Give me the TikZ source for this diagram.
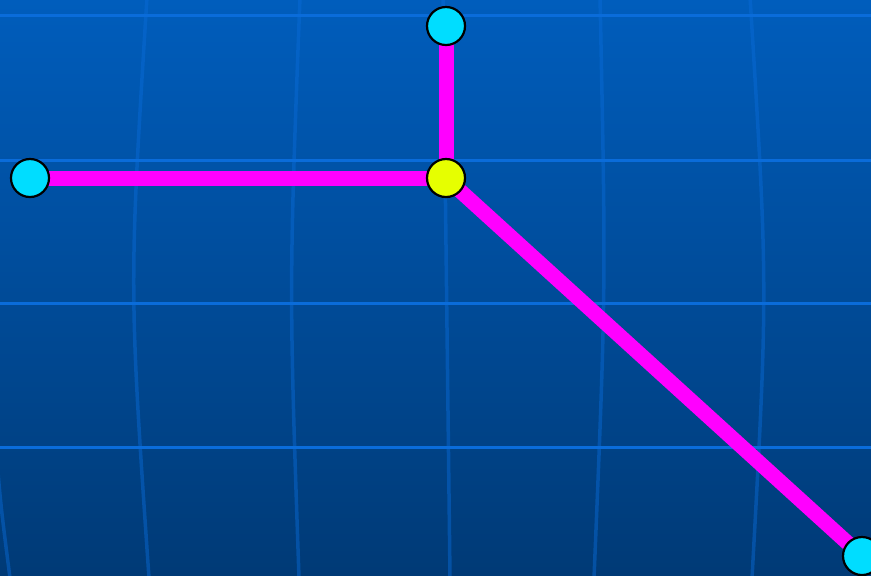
\documentclass[tikz,border=0pt]{standalone}
\usepackage{tikz}
\usetikzlibrary{backgrounds}
\definecolor{skytop}{RGB}{0,93,188}
\definecolor{skybot}{RGB}{0,58,118}
\definecolor{gridblue}{RGB}{10,108,218}
\definecolor{linkmag}{RGB}{255,0,255}
\definecolor{leafcyan}{RGB}{0,221,255}
\definecolor{hubyellow}{RGB}{230,255,0}

\begin{document}
\begin{tikzpicture}[x=0.01cm,y=-0.01cm]
\tikzstyle{grid}=[line width=0.03cm,draw=gridblue]
\tikzstyle{meridian}=[line width=0.035cm,draw=gridblue,draw opacity=0.45]
\tikzstyle{link}=[line width=0.15cm,draw=linkmag]
\tikzstyle{leaf}=[circle,draw=black,line width=0.022cm,fill=leafcyan,minimum size=0.38cm,inner sep=0pt]
\tikzstyle{hub}=[leaf,fill=hubyellow]
\useasboundingbox (0,0) rectangle (871,575);
% junction and end points
\node[hub] (hub) at (446,178) {};
\node[leaf] (north) at (446,26) {};
\node[leaf] (west) at (30,178) {};
\node[leaf] (south) at (862,556) {};
\begin{scope}[on background layer]
\shade[top color=skytop,bottom color=skybot] (0,0) rectangle (871,575);
% grid
\foreach \y in {15,160,303,447}
  \draw[grid] (0,\y) -- (871,\y);
\draw[meridian] (-6,420) .. controls (0,500) .. (10,578);
\draw[meridian] (147,-3) .. controls (129,287) .. (149,578);
\draw[meridian] (300,-3) .. controls (289,287) .. (299,578);
\draw[meridian] (443,-3) .. controls (446,287) .. (450,578);
\draw[meridian] (600,-3) .. controls (606,287) .. (594,578);
\draw[meridian] (750,-3) .. controls (768,287) .. (752,578);
% links
\draw[link] (hub.center) -- (north.center);
\draw[link] (hub.center) -- (west.center);
\draw[link] (hub.center) -- (south.center);
\end{scope}
\end{tikzpicture}
\end{document}
